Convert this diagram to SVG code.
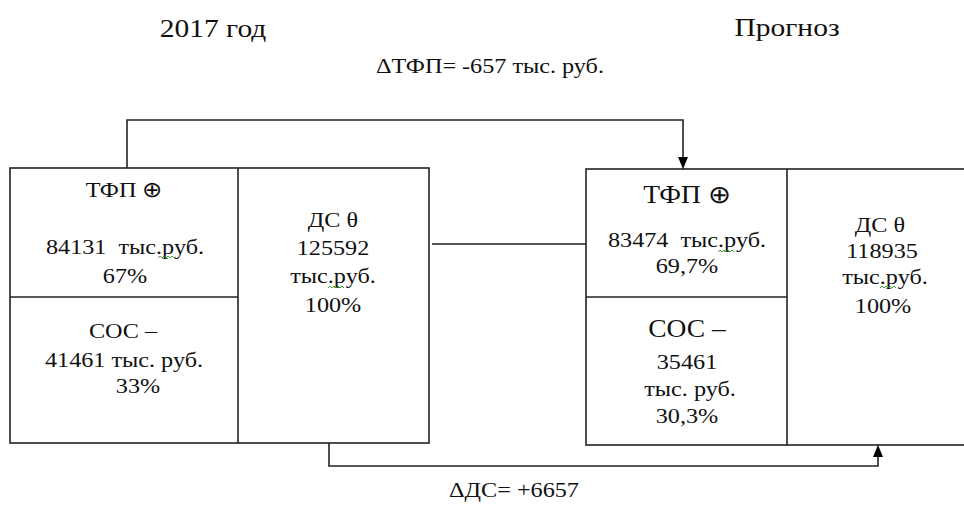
<svg xmlns="http://www.w3.org/2000/svg" width="964" height="507" viewBox="0 0 964 507">
<defs>
<style>
text{font-family:'Liberation Serif','Times New Roman',serif;fill:#111;text-anchor:middle;font-size:22px}
.big{font-size:25px}
.ttl{font-size:25px}
.box{fill:#fff;stroke:#222;stroke-width:1.6}
.ln{fill:none;stroke:#222;stroke-width:1.6}
.sq{fill:none;stroke:#2a9a2a;stroke-width:0.9}
</style>
<marker id="ah" markerWidth="10" markerHeight="12" refX="12" refY="5" orient="auto" markerUnits="userSpaceOnUse">
<path d="M0,0 L12,5 L0,10 z" fill="#000"/>
</marker>
</defs>
<rect width="964" height="507" fill="#fff"/>
<text class="ttl" transform="translate(213,37) scale(1.18,1)">2017 год</text>
<text class="ttl" transform="translate(787,36) scale(1.18,1)">Прогноз</text>
<text transform="translate(490,73) scale(1.1,1)">ΔТФП= -657 тыс. руб.</text>
<text transform="translate(514,497) scale(1.1,1)">ΔДС= +6657</text>
<g id="connectors">
<polyline class="ln" points="127,168 127,120 683,120 683,169" marker-end="url(#ah)"/>
<line class="ln" x1="432" y1="244" x2="586" y2="244"/>
<polyline class="ln" points="329,443 329,466 878,466 878,445" marker-end="url(#ah)"/>
</g>
<g id="left-2017">
<rect class="box" x="10" y="168" width="419" height="275"/>
<line class="ln" x1="238" y1="168" x2="238" y2="443"/>
<line class="ln" x1="10" y1="297" x2="238" y2="297"/>
<text transform="translate(124,197) scale(1.1,1)">ТФП ⊕</text>
<text transform="translate(125,254) scale(1.1,1)" xml:space="preserve">84131  тыс.руб.</text>
<path class="sq" d="M158,258 l2,-2 l2,2 l2,-2 l2,2 l2,-2 l2,2 l2,-2 l2,2"/>
<text transform="translate(125,283) scale(1.1,1)">67%</text>
<text transform="translate(123,338) scale(1.1,1)">СОС –</text>
<text transform="translate(124,367) scale(1.1,1)">41461 тыс. руб.</text>
<text transform="translate(138,393) scale(1.1,1)">33%</text>
<text transform="translate(333,227) scale(1.1,1)">ДС θ</text>
<text transform="translate(333,255) scale(1.1,1)">125592</text>
<text transform="translate(333,283) scale(1.1,1)">тыс.руб.</text>
<path class="sq" d="M328,288 l2,-2 l2,2 l2,-2 l2,2 l2,-2 l2,2 l2,-2 l2,2"/>
<text transform="translate(333,312) scale(1.1,1)">100%</text>
</g>
<g id="right-forecast">
<rect class="box" x="586" y="169" width="385" height="276"/>
<line class="ln" x1="787" y1="169" x2="787" y2="445"/>
<line class="ln" x1="586" y1="297" x2="787" y2="297"/>
<text class="big" transform="translate(687,203) scale(1.1,1)">ТФП ⊕</text>
<text transform="translate(687,247) scale(1.1,1)" xml:space="preserve">83474  тыс.руб.</text>
<path class="sq" d="M718,252 l2,-2 l2,2 l2,-2 l2,2 l2,-2 l2,2 l2,-2 l2,2"/>
<text transform="translate(687,273) scale(1.1,1)">69,7%</text>
<text class="big" transform="translate(687,337) scale(1.1,1)">СОС –</text>
<text transform="translate(687,369) scale(1.1,1)">35461</text>
<text transform="translate(690,396) scale(1.1,1)">тыс. руб.</text>
<text transform="translate(687,423) scale(1.1,1)">30,3%</text>
<text transform="translate(880,232) scale(1.1,1)">ДС θ</text>
<text transform="translate(882,258) scale(1.1,1)">118935</text>
<text transform="translate(885,284) scale(1.1,1)">тыс.руб.</text>
<path class="sq" d="M880,288 l2,-2 l2,2 l2,-2 l2,2 l2,-2 l2,2 l2,-2 l2,2"/>
<text transform="translate(883,313) scale(1.1,1)">100%</text>
</g>
</svg>
